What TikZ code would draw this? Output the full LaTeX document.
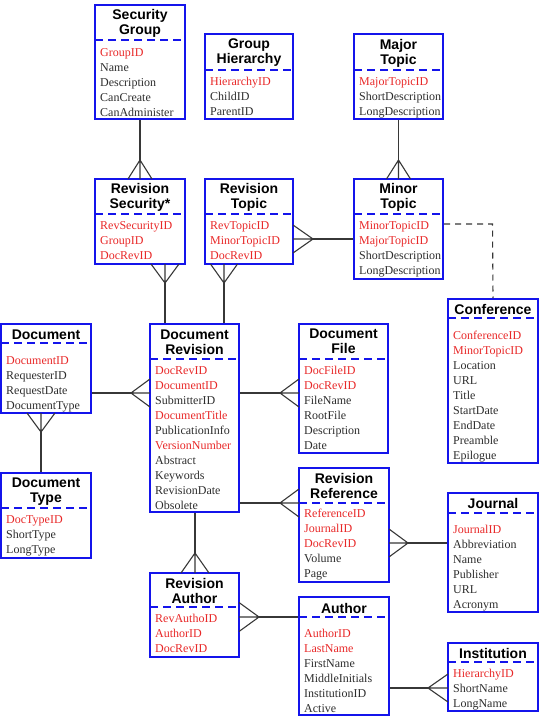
\documentclass[tikz,border=0pt]{standalone}
\usepackage{fontspec}
\setmainfont{Liberation Serif}
\newfontfamily\erhfont{Liberation Sans}
\usetikzlibrary{fit}
\definecolor{erblue}{RGB}{20,20,235}
\definecolor{keyred}{RGB}{232,40,40}
\definecolor{fieldtxt}{RGB}{45,45,45}
\definecolor{connclr}{RGB}{55,55,55}
\newcommand{\erkey}[1]{\textcolor{keyred}{#1}}
\newcommand{\erbox}[8]{%
  \node[erframe, fit={(#2,#3) (#4,#5)}] (#1) {};
  \draw[erdash] (#2,#6) -- (#4,#6);
  \node[erhead] (#1-head) at ({(#2+#4)/2},#7) {#8};
}
\newcommand{\erfields}[4]{%
  \node[erfield] (#1-fields) at (#2+5,#3-4.9) {\rule{0pt}{9pt}#4};
}
\begin{document}
\begin{tikzpicture}[x=1pt,y=-1pt,
  erframe/.style={draw=erblue, line width=2pt, inner sep=0pt},
  erdash/.style={draw=erblue, line width=2pt, dash pattern=on 8pt off 5pt},
  erhead/.style={font=\erhfont\bfseries\fontsize{14}{15}\selectfont, align=center, inner sep=0pt, text=black},
  erfield/.style={font=\fontsize{12}{15}\selectfont, align=left, inner sep=0pt, anchor=north west, text=fieldtxt},
  conn/.style={draw=connclr, line width=1.1pt},
  dconn/.style={draw=connclr, line width=1.1pt, dash pattern=on 6pt off 5pt}]
\useasboundingbox (0,0) rectangle (540,717);

% entities
\erbox{secgrp}{95}{5}{185}{119}{40}{23.5}{Security\\Group}
\erfields{secgrp}{95}{52}{\erkey{GroupID}\\Name\\Description\\CanCreate\\CanAdminister}

\erbox{grphier}{205}{34}{293}{119}{70}{53}{Group\\Hierarchy}
\erfields{grphier}{205}{81}{\erkey{HierarchyID}\\ChildID\\ParentID}

\erbox{majtopic}{354}{34}{443}{119}{70}{53}{Major\\Topic}
\erfields{majtopic}{354}{81}{\erkey{MajorTopicID}\\ShortDescription\\LongDescription}

\erbox{revsec}{95}{179}{185}{264}{214}{197}{Revision\\Security*}
\erfields{revsec}{95}{225}{\erkey{RevSecurityID}\\\erkey{GroupID}\\\erkey{DocRevID}}

\erbox{revtopic}{205}{179}{293}{264}{214}{197}{Revision\\Topic}
\erfields{revtopic}{205}{225}{\erkey{RevTopicID}\\\erkey{MinorTopicID}\\\erkey{DocRevID}}

\erbox{mintopic}{354}{179}{443}{279}{214}{197}{Minor\\Topic}
\erfields{mintopic}{354}{225}{\erkey{MinorTopicID}\\\erkey{MajorTopicID}\\ShortDescription\\LongDescription}

\erbox{conf}{448}{299}{538}{463}{318}{309}{Conference}
\erfields{conf}{448}{335}{\erkey{ConferenceID}\\\erkey{MinorTopicID}\\Location\\URL\\Title\\StartDate\\EndDate\\Preamble\\Epilogue}

\erbox{document}{1}{324}{91}{413}{343}{335}{Document}
\erfields{document}{1}{360}{\erkey{DocumentID}\\RequesterID\\RequestDate\\DocumentType}

\erbox{docrev}{150}{324}{239}{512}{359}{342}{Document\\Revision}
\erfields{docrev}{150}{370}{\erkey{DocRevID}\\\erkey{DocumentID}\\SubmitterID\\\erkey{DocumentTitle}\\PublicationInfo\\\erkey{VersionNumber}\\Abstract\\Keywords\\RevisionDate\\Obsolete}

\erbox{docfile}{299}{324}{388}{453}{359}{341.5}{Document\\File}
\erfields{docfile}{299}{370}{\erkey{DocFileID}\\\erkey{DocRevID}\\FileName\\RootFile\\Description\\Date}

\erbox{doctype}{1}{473}{91}{558}{508}{491.5}{Document\\Type}
\erfields{doctype}{1}{519}{\erkey{DocTypeID}\\ShortType\\LongType}

\erbox{revref}{299}{468}{389}{582}{503}{485.5}{Revision\\Reference}
\erfields{revref}{299}{513}{\erkey{ReferenceID}\\\erkey{JournalID}\\\erkey{DocRevID}\\Volume\\Page}

\erbox{journal}{448}{493}{538}{612}{513}{503}{Journal}
\erfields{journal}{448}{529}{\erkey{JournalID}\\Abbreviation\\Name\\Publisher\\URL\\Acronym}

\erbox{revauthor}{150}{573}{239}{657}{607}{590.5}{Revision\\Author}
\erfields{revauthor}{150}{618}{\erkey{RevAuthoID}\\\erkey{AuthorID}\\\erkey{DocRevID}}

\erbox{author}{299}{597}{389}{715}{617}{608}{Author}
\erfields{author}{299}{633}{\erkey{AuthorID}\\\erkey{LastName}\\FirstName\\MiddleInitials\\InstitutionID\\Active}

\erbox{institution}{448}{643}{538}{711}{662}{653}{Institution}
\erfields{institution}{448}{673}{\erkey{HierarchyID}\\ShortName\\LongName}

% crow's foot apexes
\coordinate (a1) at (140,160);
\coordinate (a2) at (398.5,160);
\coordinate (a3) at (165,283);
\coordinate (a4) at (224,283);
\coordinate (a5) at (313,239);
\coordinate (d1) at (492.5,224);
\coordinate (a7) at (131,393);
\coordinate (a8) at (41,432);
\coordinate (a9) at (280,393);
\coordinate (a10) at (280,503);
\coordinate (a11) at (408,543);
\coordinate (a12) at (195,553);
\coordinate (a13) at (259,617);
\coordinate (a14) at (428,688);

% Security Group -> Revision Security
\draw[conn] (secgrp.south) -- (a1);
\draw[conn] (a1) -- ++(-12,19) (a1) -- ++(0,19) (a1) -- ++(12,19);
% Major Topic -> Minor Topic
\draw[conn] (majtopic.south) -- (a2);
\draw[conn] (a2) -- ++(-12,19) (a2) -- ++(0,19) (a2) -- ++(12,19);
% Document Revision -> Revision Security
\draw[conn] (a3) -- (docrev.north -| a3);
\draw[conn] (a3) -- ++(-14,-19) (a3) -- ++(0,-19) (a3) -- ++(14,-19);
% Document Revision -> Revision Topic
\draw[conn] (a4) -- (docrev.north -| a4);
\draw[conn] (a4) -- ++(-13.5,-19) (a4) -- ++(0,-19) (a4) -- ++(13.5,-19);
% Minor Topic -> Revision Topic
\draw[conn] (a5) -- (mintopic.west |- a5);
\draw[conn] (a5) -- ++(-20,-14) (a5) -- ++(-20,0) (a5) -- ++(-20,14);
% Minor Topic -> Conference (dashed)
\draw[dconn] (mintopic.east |- d1) -- (d1) -- (conf.north);
% Document -> Document Revision
\draw[conn] (document.east |- a7) -- (a7);
\draw[conn] (a7) -- ++(19,-14) (a7) -- ++(19,0) (a7) -- ++(19,14);
% Document Type -> Document
\draw[conn] (a8) -- (doctype.north -| a8);
\draw[conn] (a8) -- ++(-14,-19) (a8) -- ++(0,-19) (a8) -- ++(14,-19);
% Document Revision -> Document File
\draw[conn] (docrev.east |- a9) -- (a9);
\draw[conn] (a9) -- ++(19,-14) (a9) -- ++(19,0) (a9) -- ++(19,14);
% Document Revision -> Revision Reference
\draw[conn] (docrev.east |- a10) -- (a10);
\draw[conn] (a10) -- ++(19,-14) (a10) -- ++(19,0) (a10) -- ++(19,14);
% Journal -> Revision Reference
\draw[conn] (a11) -- (journal.west |- a11);
\draw[conn] (a11) -- ++(-19,-14) (a11) -- ++(-19,0) (a11) -- ++(-19,14);
% Document Revision -> Revision Author
\draw[conn] (docrev.south -| a12) -- (a12);
\draw[conn] (a12) -- ++(-14,20) (a12) -- ++(0,20) (a12) -- ++(14,20);
% Author -> Revision Author
\draw[conn] (a13) -- (author.west |- a13);
\draw[conn] (a13) -- ++(-20,-14.5) (a13) -- ++(-20,0) (a13) -- ++(-20,14.5);
% Author -> Institution
\draw[conn] (author.east |- a14) -- (a14);
\draw[conn] (a14) -- ++(20,-14) (a14) -- ++(20,0) (a14) -- ++(20,14);
\end{tikzpicture}
\end{document}
